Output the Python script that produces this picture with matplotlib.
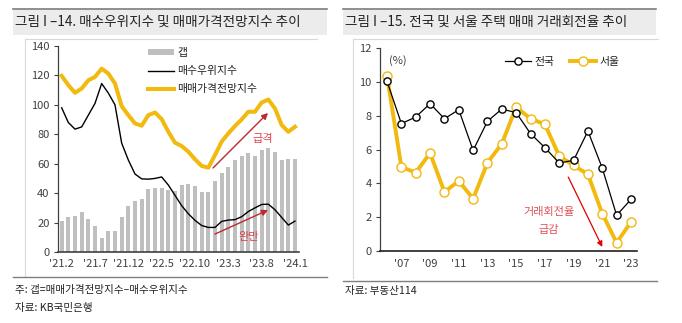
import matplotlib
matplotlib.use("Agg")
import matplotlib.pyplot as plt
from matplotlib.lines import Line2D
from matplotlib.patches import Rectangle, Patch

plt.rcParams['font.family'] = ['Noto Sans CJK KR', 'DejaVu Sans']

# ---- left chart data (monthly, 2021.2 ~ 2024.1) ----
gap = [21, 24, 24.5, 27, 22.5, 18, 9.5, 14, 14, 23.5, 31, 35, 36, 43, 43.5, 43.5,
       42, 41.5, 45.5, 46.5, 45, 41, 40.5, 48.5, 54, 58, 62.5, 65.5, 67, 65.5,
       69, 71, 68, 62.5, 63, 63.5]
buy_index = [98, 88, 83.5, 85, 93, 101, 114.5, 108, 100, 74, 62.5, 53, 49.7, 49.5,
             50, 51, 45.5, 38.5, 31.5, 26, 21.5, 18, 16.7, 16.7, 20.8, 21.7, 22,
             24, 27.5, 30, 32.3, 32.5, 28.7, 23.5, 18.3, 21]
price_outlook = [119.7, 113.4, 108.2, 111.1, 116.7, 119, 124.6, 121.3, 114.5, 99.1,
                 93, 87.4, 85.8, 93, 94.8, 90.3, 81.7, 74.3, 72, 68.2, 63, 58.5,
                 57.3, 65.9, 75, 80.6, 85.6, 90.1, 95.3, 95.3, 101.6, 103.6, 97.5,
                 86.3, 81.7, 85.1]
left_tick_pos = [0, 5, 10, 15, 20, 25, 30, 35]
left_tick_labels = ["'21.2", "'21.7", "'21.12", "'22.5", "'22.10", "'23.3", "'23.8", "'24.1"]

# ---- right chart data (yearly turnover, %) ----
years = list(range(2006, 2024))
nationwide = [10.03, 7.53, 7.92, 8.71, 7.82, 8.35, 5.95, 7.67, 8.39, 8.18, 6.94,
              6.11, 5.2, 5.36, 7.09, 4.9, 2.11, 3.05]
seoul = [10.34, 4.97, 4.63, 5.79, 3.49, 4.14, 3.09, 5.22, 6.34, 8.51, 7.82, 7.49,
         5.62, 5.06, 4.53, 2.21, 0.49, 1.71]
right_ticks = list(range(2007, 2024, 2))
right_tick_labels = ["'%02d" % (y % 100) for y in right_ticks]

W, H = 682, 323
YELLOW = '#f2b90f'
FS = 8


def fx(x):
    return x / W


def fy(y):
    return 1 - y / H


def rect(l, t, r, b):
    return [fx(l), fy(b), (r - l) / W, (b - t) / H]


def hline(fig, x0, x1, y, color, lw):
    fig.add_artist(Line2D([fx(x0), fx(x1)], [fy(y), fy(y)], color=color, lw=lw,
                          transform=fig.transFigure))


def vline(fig, x, y0, y1, color, lw):
    fig.add_artist(Line2D([fx(x), fx(x)], [fy(y0), fy(y1)], color=color, lw=lw,
                          transform=fig.transFigure))


fig = plt.figure(figsize=(W / 100, H / 100), dpi=100)

# headers
for l, r, title in [(13, 327, "그림 I –14. 매수우위지수 및 매매가격전망지수 추이"),
                    (343, 656, "그림 I –15. 전국 및 서울 주택 매매 거래회전율 추이")]:
    fig.add_artist(Rectangle((fx(l), fy(35)), (r - l) / W, 27 / H, facecolor='#ececec',
                             edgecolor='none', transform=fig.transFigure))
    hline(fig, l, r, 8.5, '#7f7f7f', 1.2)
    fig.text(fx(l + 2), fy(22), title, fontsize=9.8, color='#222222', va='center', ha='left')

# chart frames
hline(fig, 25, 317, 39, '#d9d9d9', 0.8)
vline(fig, 25, 39, 276, '#d9d9d9', 0.8)
hline(fig, 353, 658, 39, '#d9d9d9', 0.8)
vline(fig, 353, 39, 278, '#d9d9d9', 0.8)
# bottom separators
hline(fig, 13, 327, 276.5, '#7f7f7f', 1.0)
hline(fig, 343, 657, 280.5, '#7f7f7f', 1.0)

# notes
fig.text(fx(15), fy(290), "주: 갭=매매가격전망지수–매수우위지수", fontsize=7.6, color='#222222', va='center')
fig.text(fx(15), fy(308), "자료: KB국민은행", fontsize=7.6, color='#222222', va='center')
fig.text(fx(345), fy(291), "자료: 부동산114", fontsize=7.6, color='#222222', va='center')

# ---------------- left chart ----------------
ax = fig.add_axes(rect(58, 46, 299, 252))
xs = list(range(len(gap)))
ax.bar(xs, gap, width=0.6, color='#bfbfbf', label='갭', zorder=1)
ax.plot(xs, buy_index, color='black', lw=1.0, label='매수우위지수', zorder=3)
ax.plot(xs, price_outlook, color=YELLOW, lw=2.9, label='매매가격전망지수', zorder=2)
ax.set_xlim(-0.55, 35.6)
ax.set_ylim(0, 140)
ax.set_yticks(range(0, 141, 20))
ax.set_xticks(left_tick_pos)
ax.set_xticklabels(left_tick_labels)
for s in ['top', 'right']:
    ax.spines[s].set_visible(False)
ax.spines['left'].set_color('#404040')
ax.spines['bottom'].set_color('#404040')
ax.spines['left'].set_linewidth(0.9)
ax.spines['bottom'].set_linewidth(1.2)
ax.tick_params(axis='y', length=3, width=0.8, colors='#404040', labelsize=FS, pad=3)
ax.tick_params(axis='x', length=0, colors='#404040', labelsize=FS, pad=5)
ax.patch.set_alpha(0)
handles = [Patch(facecolor='#bfbfbf', edgecolor='none'),
           Line2D([], [], color='black', lw=1.0),
           Line2D([], [], color=YELLOW, lw=2.9)]
leg = ax.legend(handles, ['갭', '매수우위지수', '매매가격전망지수'], loc='upper left',
                bbox_to_anchor=(0.373, 0.99), frameon=False, fontsize=7.8,
                handlelength=2.4, handleheight=0.5, handletextpad=0.3,
                labelspacing=0.75, borderpad=0, borderaxespad=0)
for t in leg.get_texts():
    t.set_color('#222222')

ax.annotate('', xy=(30.95, 94.5), xytext=(22.7, 57.1),
            arrowprops=dict(arrowstyle='-|>', color='#c0282d', lw=1.0,
                            mutation_scale=9, shrinkA=0, shrinkB=0))
ax.annotate('', xy=(30.95, 28.5), xytext=(23.0, 12.2),
            arrowprops=dict(arrowstyle='-|>', color='#c0282d', lw=1.0,
                            mutation_scale=9, shrinkA=0, shrinkB=0))
ax.text(30.2, 76.8, '급격', color='#e0404a', fontsize=FS, ha='center', va='center')
ax.text(28.1, 10.2, '완만', color='#e0404a', fontsize=FS, ha='center', va='center')

# ---------------- right chart ----------------
ax2 = fig.add_axes(rect(380, 48, 637, 251))
ax2.plot(years, nationwide, color='black', lw=0.9, marker='o', markersize=5.2,
         markerfacecolor='white', markeredgecolor='black', markeredgewidth=1.0,
         label='전국', zorder=3)
ax2.plot(years, seoul, color=YELLOW, lw=2.8, marker='o', markersize=6.5,
         markerfacecolor='white', markeredgecolor=YELLOW, markeredgewidth=1.0,
         label='서울', zorder=2)
ax2.set_xlim(2005.51, 2023.42)
ax2.set_ylim(0, 12)
ax2.set_yticks(range(0, 13, 2))
ax2.set_xticks(right_ticks)
ax2.set_xticklabels(right_tick_labels)
for s in ['top', 'right']:
    ax2.spines[s].set_visible(False)
ax2.spines['left'].set_color('#404040')
ax2.spines['bottom'].set_color('#202020')
ax2.spines['left'].set_linewidth(0.9)
ax2.spines['bottom'].set_linewidth(1.2)
ax2.tick_params(axis='y', length=3, width=0.8, colors='#404040', labelsize=FS, pad=3)
ax2.tick_params(axis='x', length=0, colors='#404040', labelsize=FS, pad=6)
ax2.patch.set_alpha(0)
ax2.text(0.035, 0.94, '(%)', transform=ax2.transAxes, fontsize=FS, color='#404040',
         va='center', ha='left')
leg2 = ax2.legend(loc='upper left', bbox_to_anchor=(0.486, 0.955), ncol=2, frameon=False,
                  fontsize=7.8, handlelength=2.4, handletextpad=0.3, columnspacing=1.5,
                  borderpad=0, borderaxespad=0)
for t in leg2.get_texts():
    t.set_color('#222222')

ax2.annotate('', xy=(2021.0, 0.24), xytext=(2018.63, 4.37),
             arrowprops=dict(arrowstyle='-|>', color='#e00000', lw=0.9,
                             mutation_scale=8, shrinkA=0, shrinkB=0))
ax2.text(2017.3, 2.3, '거래회전율', color='#e05058', fontsize=FS, ha='center', va='center')
ax2.text(2017.3, 1.24, '급감', color='#e05058', fontsize=FS, ha='center', va='center')

fig.savefig('out.png', dpi=100, facecolor='white')
